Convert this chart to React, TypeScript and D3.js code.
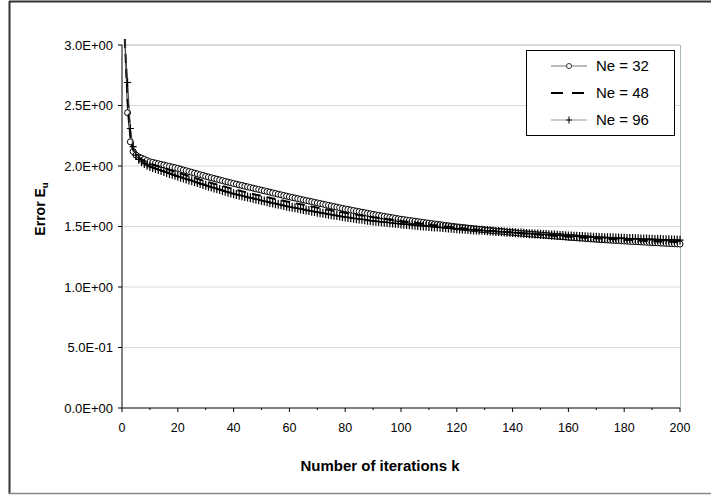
import React from "react";
import * as d3 from "d3";

const seriesNames = ["Ne = 32", "Ne = 48", "Ne = 96"];

const ne32: number[] = [
  3.05, 2.44, 2.20, 2.12, 2.09, 2.075, 2.065, 2.055, 2.045, 2.035,
  2.030, 2.024, 2.019, 2.013, 2.008, 2.002, 1.997, 1.991, 1.986, 1.980,
  1.974, 1.967, 1.961, 1.954, 1.948, 1.941, 1.935, 1.928, 1.922, 1.915,
  1.909, 1.903, 1.897, 1.891, 1.885, 1.879, 1.873, 1.867, 1.861, 1.855,
  1.850, 1.844, 1.839, 1.833, 1.828, 1.822, 1.817, 1.811, 1.806, 1.800,
  1.795, 1.789, 1.784, 1.778, 1.773, 1.767, 1.762, 1.756, 1.751, 1.745,
  1.740, 1.735, 1.730, 1.725, 1.720, 1.715, 1.710, 1.705, 1.700, 1.695,
  1.690, 1.685, 1.680, 1.675, 1.670, 1.665, 1.660, 1.655, 1.650, 1.645,
  1.641, 1.636, 1.632, 1.627, 1.623, 1.618, 1.614, 1.609, 1.605, 1.600,
  1.596, 1.592, 1.588, 1.584, 1.580, 1.576, 1.572, 1.568, 1.564, 1.560,
  1.557, 1.553, 1.550, 1.547, 1.544, 1.540, 1.537, 1.534, 1.530, 1.527,
  1.524, 1.521, 1.518, 1.515, 1.512, 1.509, 1.506, 1.503, 1.500, 1.497,
  1.495, 1.492, 1.490, 1.487, 1.485, 1.482, 1.480, 1.477, 1.475, 1.472,
  1.470, 1.468, 1.465, 1.463, 1.461, 1.459, 1.457, 1.454, 1.452, 1.450,
  1.448, 1.446, 1.444, 1.442, 1.440, 1.438, 1.436, 1.434, 1.432, 1.430,
  1.428, 1.426, 1.424, 1.422, 1.421, 1.419, 1.417, 1.415, 1.413, 1.411,
  1.409, 1.408, 1.406, 1.404, 1.403, 1.401, 1.399, 1.397, 1.396, 1.394,
  1.393, 1.391, 1.390, 1.388, 1.387, 1.386, 1.384, 1.383, 1.381, 1.380,
  1.379, 1.377, 1.376, 1.375, 1.374, 1.372, 1.371, 1.370, 1.368, 1.367,
  1.366, 1.365, 1.363, 1.362, 1.361, 1.360, 1.359, 1.357, 1.356, 1.355,
];

const ne48: number[] = [
  3.05, 2.55, 2.26, 2.14, 2.095, 2.07, 2.055, 2.043, 2.031, 2.020,
  2.013, 2.005, 1.998, 1.990, 1.983, 1.975, 1.968, 1.960, 1.953, 1.945,
  1.938, 1.931, 1.923, 1.916, 1.909, 1.902, 1.895, 1.887, 1.880, 1.873,
  1.867, 1.860, 1.854, 1.847, 1.841, 1.834, 1.828, 1.821, 1.815, 1.808,
  1.802, 1.797, 1.791, 1.786, 1.780, 1.774, 1.769, 1.763, 1.758, 1.752,
  1.747, 1.742, 1.737, 1.732, 1.727, 1.722, 1.717, 1.712, 1.707, 1.702,
  1.697, 1.693, 1.688, 1.684, 1.679, 1.674, 1.670, 1.665, 1.661, 1.656,
  1.652, 1.647, 1.643, 1.639, 1.635, 1.630, 1.626, 1.622, 1.617, 1.613,
  1.609, 1.606, 1.602, 1.599, 1.595, 1.591, 1.588, 1.584, 1.581, 1.577,
  1.574, 1.571, 1.567, 1.564, 1.561, 1.558, 1.555, 1.551, 1.548, 1.545,
  1.542, 1.539, 1.536, 1.533, 1.531, 1.528, 1.525, 1.522, 1.519, 1.516,
  1.513, 1.511, 1.508, 1.506, 1.503, 1.500, 1.498, 1.495, 1.493, 1.490,
  1.488, 1.486, 1.483, 1.481, 1.479, 1.477, 1.475, 1.472, 1.470, 1.468,
  1.466, 1.464, 1.462, 1.460, 1.459, 1.457, 1.455, 1.453, 1.452, 1.450,
  1.448, 1.446, 1.445, 1.443, 1.441, 1.439, 1.437, 1.436, 1.434, 1.432,
  1.430, 1.429, 1.427, 1.426, 1.424, 1.422, 1.421, 1.419, 1.418, 1.416,
  1.415, 1.413, 1.412, 1.410, 1.409, 1.408, 1.406, 1.405, 1.403, 1.402,
  1.401, 1.400, 1.398, 1.397, 1.396, 1.395, 1.394, 1.392, 1.391, 1.390,
  1.389, 1.388, 1.387, 1.386, 1.385, 1.383, 1.382, 1.381, 1.380, 1.379,
  1.378, 1.377, 1.376, 1.375, 1.375, 1.374, 1.373, 1.372, 1.371, 1.370,
];

const ne96: number[] = [
  3.05, 2.69, 2.31, 2.16, 2.09, 2.055, 2.035, 2.02, 2.007, 1.995,
  1.987, 1.979, 1.971, 1.963, 1.955, 1.947, 1.939, 1.931, 1.923, 1.915,
  1.908, 1.900, 1.893, 1.885, 1.878, 1.870, 1.863, 1.855, 1.848, 1.840,
  1.833, 1.826, 1.819, 1.812, 1.805, 1.798, 1.791, 1.784, 1.777, 1.770,
  1.765, 1.759, 1.754, 1.748, 1.743, 1.737, 1.732, 1.726, 1.721, 1.715,
  1.710, 1.705, 1.699, 1.694, 1.689, 1.684, 1.679, 1.673, 1.668, 1.663,
  1.659, 1.654, 1.650, 1.645, 1.641, 1.636, 1.632, 1.627, 1.623, 1.618,
  1.614, 1.610, 1.606, 1.602, 1.598, 1.594, 1.590, 1.586, 1.582, 1.578,
  1.575, 1.572, 1.568, 1.565, 1.562, 1.559, 1.556, 1.552, 1.549, 1.546,
  1.544, 1.541, 1.539, 1.536, 1.534, 1.531, 1.529, 1.526, 1.524, 1.521,
  1.519, 1.517, 1.515, 1.513, 1.511, 1.508, 1.506, 1.504, 1.502, 1.500,
  1.498, 1.496, 1.495, 1.493, 1.491, 1.489, 1.487, 1.486, 1.484, 1.482,
  1.480, 1.479, 1.477, 1.476, 1.474, 1.472, 1.471, 1.469, 1.468, 1.466,
  1.464, 1.463, 1.461, 1.459, 1.458, 1.456, 1.455, 1.453, 1.452, 1.450,
  1.449, 1.447, 1.446, 1.444, 1.443, 1.441, 1.440, 1.438, 1.437, 1.435,
  1.434, 1.433, 1.431, 1.430, 1.429, 1.428, 1.426, 1.425, 1.424, 1.422,
  1.421, 1.420, 1.419, 1.418, 1.417, 1.415, 1.414, 1.413, 1.412, 1.411,
  1.410, 1.409, 1.408, 1.408, 1.407, 1.406, 1.405, 1.404, 1.403, 1.402,
  1.401, 1.400, 1.400, 1.399, 1.398, 1.397, 1.396, 1.396, 1.395, 1.394,
  1.393, 1.393, 1.392, 1.391, 1.391, 1.390, 1.389, 1.389, 1.388, 1.387,
];

const yTicks = [0, 0.5, 1.0, 1.5, 2.0, 2.5, 3.0];
const yTickLabels = ["0.0E+00", "5.0E-01", "1.0E+00", "1.5E+00", "2.0E+00", "2.5E+00", "3.0E+00"];
const xMajorTicks = [0, 20, 40, 60, 80, 100, 120, 140, 160, 180, 200];
const xMinorTicks = [10, 30, 50, 70, 90, 110, 130, 150, 170, 190];

const W = 711;
const H = 497;
const PL = 122, PR = 680, PT = 45, PB = 408;
const FONT = "Arial, 'Liberation Sans', Helvetica, sans-serif";

export default function App() {
  const x = d3.scaleLinear().domain([0, 200]).range([PL, PR]);
  const y = d3.scaleLinear().domain([0, 3]).range([PB, PT]);
  const toPts = (arr: number[]) => arr.map((v, i) => ({ k: i + 1, v }));
  const line = d3.line<{ k: number; v: number }>().x((d) => x(d.k)).y((d) => y(d.v));
  const p32 = toPts(ne32), p48 = toPts(ne48), p96 = toPts(ne96);

  const legendY = [66, 93, 120];
  return (
    <svg width={W} height={H} style={{ display: "block", position: "absolute", left: 0, top: 0 }} fontFamily={FONT}>
      <rect x={0} y={0} width={W} height={H} fill="#fff" />
      {/* outer frame */}
      <line x1={9.5} y1={1} x2={9.5} y2={494} stroke="#333" strokeWidth={2} />
      <line x1={9} y1={1.5} x2={W} y2={1.5} stroke="#333" strokeWidth={2} />
      <line x1={9} y1={493.5} x2={W} y2={493.5} stroke="#888" strokeWidth={1.5} />

      {/* gridlines */}
      {yTicks.filter((t) => t > 0).map((t) => (
        <line key={t} x1={PL} x2={PR} y1={y(t)} y2={y(t)} stroke={t === 3 ? "#a9b9b9" : "#d3dddd"} strokeWidth={1} />
      ))}
      <line x1={PR + 0.5} x2={PR + 0.5} y1={PT} y2={PB} stroke="#a9b9b9" strokeWidth={1} />

      {/* axes */}
      <line x1={PL} x2={PL} y1={PT} y2={PB} stroke="#000" strokeWidth={1} />
      <line x1={PL} x2={PR} y1={PB} y2={PB} stroke="#000" strokeWidth={1} />
      {yTicks.map((t, i) => (
        <g key={t}>
          <line x1={PL - 4} x2={PL} y1={y(t)} y2={y(t)} stroke="#000" />
          <text x={PL - 9} y={y(t)} dy="0.35em" textAnchor="end" fontSize={13}>{yTickLabels[i]}</text>
        </g>
      ))}
      {xMajorTicks.map((t) => (
        <g key={t}>
          <line x1={x(t)} x2={x(t)} y1={PB} y2={PB + 4} stroke="#000" />
          <text x={x(t)} y={428} dy="0.35em" textAnchor="middle" fontSize={12.5}>{t}</text>
        </g>
      ))}
      {xMinorTicks.map((t) => (
        <line key={t} x1={x(t)} x2={x(t)} y1={PB} y2={PB + 2} stroke="#000" />
      ))}

      {/* axis titles */}
      <text x={380} y={466} dy="0.35em" textAnchor="middle" fontSize={15} fontWeight="bold">Number of iterations k</text>
      <text transform="translate(40,209) rotate(-90)" textAnchor="middle" dy="0.35em" fontSize={14} fontWeight="bold">
        Error E<tspan fontSize={9.5} dy="3">u</tspan>
      </text>

      {/* series */}
      <path d={line(p32) || ""} fill="none" stroke="#222" strokeWidth={1} />
      {p32.filter((d) => d.v <= 3).map((d) => (
        <circle key={d.k} cx={x(d.k)} cy={y(d.v)} r={3} fill="#fff" stroke="#000" strokeWidth={1} />
      ))}
      <path d={line(p48) || ""} fill="none" stroke="#000" strokeWidth={2} strokeDasharray="9,6" />
      <path d={line(p96) || ""} fill="none" stroke="#444" strokeWidth={1} />
      {p96.filter((d) => d.v <= 3).map((d) => (
        <path key={d.k} d={`M${x(d.k) - 3.5},${y(d.v)}H${x(d.k) + 3.5}M${x(d.k)},${y(d.v) - 4.5}V${y(d.v) + 4.5}`} stroke="#000" strokeWidth={1.2} fill="none" />
      ))}

      {/* legend */}
      <rect x={526.5} y={50.5} width={148} height={85} fill="#fff" stroke="#000" strokeWidth={1} />
      <line x1={551} x2={587} y1={legendY[0]} y2={legendY[0]} stroke="#777" strokeWidth={1} />
      <circle cx={569} cy={legendY[0]} r={2.5} fill="#fff" stroke="#333" />
      <line x1={551} x2={587} y1={legendY[1]} y2={legendY[1]} stroke="#000" strokeWidth={2} strokeDasharray="12,9" />
      <line x1={551} x2={587} y1={legendY[2]} y2={legendY[2]} stroke="#999" strokeWidth={1} />
      <path d={`M${566},${legendY[2]}H${572}M${569},${legendY[2] - 3.5}V${legendY[2] + 3.5}`} stroke="#000" />
      {seriesNames.map((n, i) => (
        <text key={n} x={596} y={legendY[i]} dy="0.35em" fontSize={15}>{n}</text>
      ))}
    </svg>
  );
}
